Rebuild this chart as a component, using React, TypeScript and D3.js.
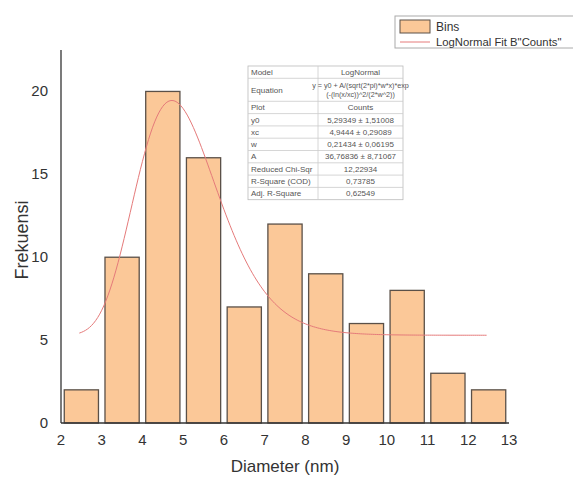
import React from 'react'
import * as d3 from 'd3'

// histogram bins (left edge) and counts
const binStarts = [2, 3, 4, 5, 6, 7, 8, 9, 10, 11, 12]
const counts = [2, 10, 20, 16, 7, 12, 9, 6, 8, 3, 2]
const xTicks = [2, 3, 4, 5, 6, 7, 8, 9, 10, 11, 12, 13]
const yTicks = [0, 5, 10, 15, 20]

// LogNormal fit parameters (from the table)
const y0 = 5.29349
const xc = 4.9444
const w = 0.21434
const A = 36.76836
const fitRange = [2.45, 12.45]

const tableRows: [string, string][] = [
  ['Model', 'LogNormal'],
  ['Equation', 'y = y0 + A/(sqrt(2*pi)*w*x)*exp|(-(ln(x/xc))^2/(2*w^2))'],
  ['Plot', 'Counts'],
  ['y0', '5,29349 ± 1,51008'],
  ['xc', '4,9444 ± 0,29089'],
  ['w', '0,21434 ± 0,06195'],
  ['A', '36,76836 ± 8,71067'],
  ['Reduced Chi-Sqr', '12,22934'],
  ['R-Square (COD)', '0,73785'],
  ['Adj. R-Square', '0,62549'],
]

const W = 573
const H = 479
const font = 'Liberation Sans, Arial, sans-serif'

export default function App() {
  const x = d3.scaleLinear().domain([2, 13]).range([61, 509])
  const y = d3.scaleLinear().domain([0, 22.5]).range([423, 50])

  const logNormal = (t: number) =>
    y0 + (A / (Math.sqrt(2 * Math.PI) * w * t)) * Math.exp(-Math.pow(Math.log(t / xc), 2) / (2 * w * w))

  const fitX = d3.range(fitRange[0], fitRange[1] + 0.001, 0.05)
  const line = d3.line<number>()
    .x(t => x(t))
    .y(t => y(logNormal(t)))
    .curve(d3.curveLinear)

  const pad = 0.08

  // table layout
  const tx = 248, tMid = 318, tr = 403, tTop = 66
  const rowH = 12.3
  let cy = tTop
  const rows = tableRows.map(([k, v], i) => {
    const h = i === 1 ? 23 : rowH
    const r = { k, v, top: cy, h }
    cy += h
    return r
  })

  return (
    <svg width={W} height={H} style={{ position: 'absolute', left: 0, top: 0, background: 'white' }}>
      {/* bars */}
      {binStarts.map((b, i) => (
        <rect
          key={b}
          x={x(b + pad)}
          y={y(counts[i])}
          width={x(b + 1 - pad) - x(b + pad)}
          height={y(0) - y(counts[i])}
          fill="#FBC898"
          stroke="#5a5048"
          strokeWidth={1.3}
        />
      ))}

      {/* fit curve */}
      <path d={line(fitX) || ''} fill="none" stroke="#e57a7a" strokeWidth={1} />

      {/* axes */}
      <line x1={x(2)} x2={x(2)} y1={y(22.5)} y2={y(0)} stroke="#333" strokeWidth={1.3} />
      <line x1={x(2)} x2={x(13)} y1={y(0)} y2={y(0)} stroke="#333" strokeWidth={1.3} />
      {xTicks.map(t => (
        <text key={t} x={x(t)} y={445} textAnchor="middle" fontFamily={font} fontSize={15} fill="#333">{t}</text>
      ))}
      {yTicks.map(t => (
        <text key={t} x={48} y={y(t) + 5} textAnchor="end" fontFamily={font} fontSize={15} fill="#333">{t}</text>
      ))}
      <text x={285} y={472} textAnchor="middle" fontFamily={font} fontSize={17} fill="#333">Diameter (nm)</text>
      <text transform="translate(28,240) rotate(-90)" textAnchor="middle" fontFamily={font} fontSize={18} fill="#333">Frekuensi</text>

      {/* legend */}
      <rect x={395} y={16} width={185} height={32} fill="white" stroke="#aaa" strokeWidth={1} />
      <rect x={400} y={20} width={30} height={13} fill="#FBC898" stroke="#5a5048" strokeWidth={1} />
      <text x={436} y={31} fontFamily={font} fontSize={12} fill="#333">Bins</text>
      <line x1={400} x2={430} y1={42} y2={42} stroke="#e57a7a" strokeWidth={1} />
      <text x={436} y={46} fontFamily={font} fontSize={11.3} fill="#333">LogNormal Fit B"Counts"</text>

      {/* fit table */}
      <g fontFamily={font} fontSize={8} fill="#555">
        <rect x={tx} y={tTop} width={tr - tx} height={cy - tTop} fill="white" stroke="#bbb" strokeWidth={0.8} />
        <line x1={tMid} x2={tMid} y1={tTop} y2={cy} stroke="#ccc" strokeWidth={0.8} />
        {rows.map((r, i) => (
          <g key={i}>
            {i > 0 && <line x1={tx} x2={tr} y1={r.top} y2={r.top} stroke="#ccc" strokeWidth={0.8} />}
            <text x={tx + 3} y={r.top + r.h / 2 + 2.8}>{r.k}</text>
            {r.v.split('|').map((s, j, arr) => (
              <text key={j} x={(tMid + tr) / 2} y={r.top + r.h / 2 + 2.8 + (j - (arr.length - 1) / 2) * 9} textAnchor="middle"
                fontSize={arr.length > 1 ? 7.2 : 8}>{s}</text>
            ))}
          </g>
        ))}
      </g>
    </svg>
  )
}
